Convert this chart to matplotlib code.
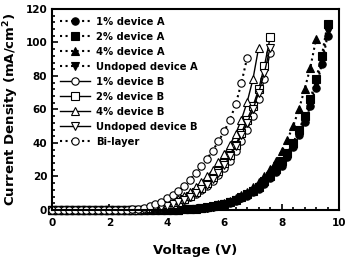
import matplotlib
matplotlib.use("Agg")
import matplotlib.pyplot as plt
from matplotlib.ticker import MultipleLocator

V = [0.0, 0.2, 0.4, 0.6, 0.8, 1.0, 1.2, 1.4, 1.6, 1.8, 2.0, 2.2, 2.4, 2.6, 2.8,
     3.0, 3.2, 3.4, 3.6, 3.8, 4.0, 4.2, 4.4, 4.6, 4.8, 5.0, 5.2, 5.4, 5.6, 5.8,
     6.0, 6.2, 6.4, 6.6, 6.8, 7.0, 7.2, 7.4, 7.6, 7.8, 8.0, 8.2, 8.4, 8.6, 8.8,
     9.0, 9.2, 9.4, 9.6]

Z21 = [0.0] * 21  # 0.0 .. 4.0 V

a1 = Z21 + [0.1, 0.15, 0.3, 0.45, 0.7, 1.0, 1.4, 1.9, 2.6, 3.4, 4.3, 5.5, 6.9, 8.5,
            10.5, 12.8, 15.5, 18.8, 22.5, 26.5, 31.5, 37.5, 44.5, 52.5, 62, 73, 87, 104]
a2 = Z21 + [0.1, 0.2, 0.3, 0.5, 0.8, 1.1, 1.5, 2.1, 2.8, 3.7, 4.7, 6.0, 7.5, 9.3,
            11.5, 14, 17, 20.5, 24.5, 29, 34, 40, 47.5, 56, 66, 78, 92, 111]
a4 = Z21 + [0.1, 0.2, 0.4, 0.6, 0.9, 1.3, 1.8, 2.5, 3.3, 4.3, 5.5, 7.0, 8.8, 11,
            13.5, 16.5, 20, 24.5, 29.5, 35, 42, 50, 60, 72, 85, 102]
au = Z21 + [0.1, 0.18, 0.3, 0.48, 0.75, 1.05, 1.45, 2.0, 2.7, 3.55, 4.5, 5.8, 7.2, 9.0,
            11.2, 13.7, 16.5, 20, 24, 28.5, 33.5, 39.5, 46.5, 54.5, 64, 75.5, 89, 107]

b1 = [0.0] * 16 + [0.1, 0.4, 0.8, 1.4, 2.1, 3.1, 4.3, 5.8, 7.5, 9.5, 11.8, 14.5, 17.5,
                   21, 25, 29.5, 35, 41, 48, 56, 66, 78, 94]
b2 = [0.0] * 16 + [0.2, 0.5, 1.0, 1.6, 2.5, 3.5, 4.8, 6.4, 8.3, 10.5, 13, 16, 19.5,
                   23.5, 28, 33, 39, 46, 54, 62, 72, 86, 103]
b4 = [0.0] * 15 + [0.2, 0.5, 1.0, 1.7, 2.6, 3.7, 5.0, 6.6, 8.5, 11, 13.5, 16.5, 20, 24,
                   28.5, 33.5, 39, 45.5, 54, 64.5, 78, 97]
bu = [0.0] * 16 + [0.15, 0.45, 0.9, 1.5, 2.3, 3.3, 4.5, 6.1, 7.9, 10, 12.4, 15.2, 18.5,
                   22.3, 26.8, 32, 38, 44.5, 52, 60, 70, 82, 97]
bi = [0.0] * 13 + [0.1, 0.3, 0.7, 1.3, 2.2, 3.4, 5.0, 7.0, 9.0, 11.5, 14.5, 18, 22, 26,
                   30.5, 35.5, 41, 47, 54, 63, 76, 91]

labels = ["1% device A", "2% device A", "4% device A", "Undoped device A",
          "1% device B", "2% device B", "4% device B", "Undoped device B", "Bi-layer"]
series = [a1, a2, a4, au, b1, b2, b4, bu, bi]
markers = ["o", "s", "^", "v", "o", "s", "^", "v", "o"]
filled = [True, True, True, True, False, False, False, False, False]
styles = [":", ":", ":", ":", "-", "-", "-", "-", ":"]

fig = plt.figure(figsize=(3.47, 2.57), dpi=100)
ax = fig.add_axes([0.15, 0.183, 0.827, 0.782])

for y, lab, m, f, ls in zip(series, labels, markers, filled, styles):
    ax.plot(V[:len(y)], y, linestyle=ls, color="black", lw=1.0 if ls == "-" else 1.5,
            marker=m, markersize=5.3, markerfacecolor="black" if f else "white",
            markeredgecolor="black", markeredgewidth=0.8, label=lab, clip_on=False)

ax.set_xlim(0, 10)
ax.set_ylim(0, 120)
ax.xaxis.set_major_locator(MultipleLocator(2))
ax.xaxis.set_minor_locator(MultipleLocator(0.4))
ax.yaxis.set_major_locator(MultipleLocator(20))
ax.yaxis.set_minor_locator(MultipleLocator(4))
ax.tick_params(which="both", direction="in", top=False, right=False, width=1.2,
               labelsize=7.5)
ax.tick_params(which="major", length=4)
ax.tick_params(axis="x", which="major", pad=6)
ax.tick_params(which="minor", length=2.5)
for lab in ax.get_xticklabels() + ax.get_yticklabels():
    lab.set_fontweight("bold")
for s in ax.spines.values():
    s.set_linewidth(1.5)

ax.set_xlabel("Voltage (V)", fontsize=9.5, fontweight="bold", labelpad=11)
ax.set_ylabel("Current Density (mA/cm$^\\mathbf{2}$)", fontsize=9.5, fontweight="bold",
              labelpad=3)

leg = ax.legend(loc="upper left", frameon=False, handlelength=3.0,
                handletextpad=0.6, labelspacing=0.5, borderaxespad=0.4,
                prop={"weight": "bold", "size": 7.2})

fig.savefig("out.png", dpi=100)
